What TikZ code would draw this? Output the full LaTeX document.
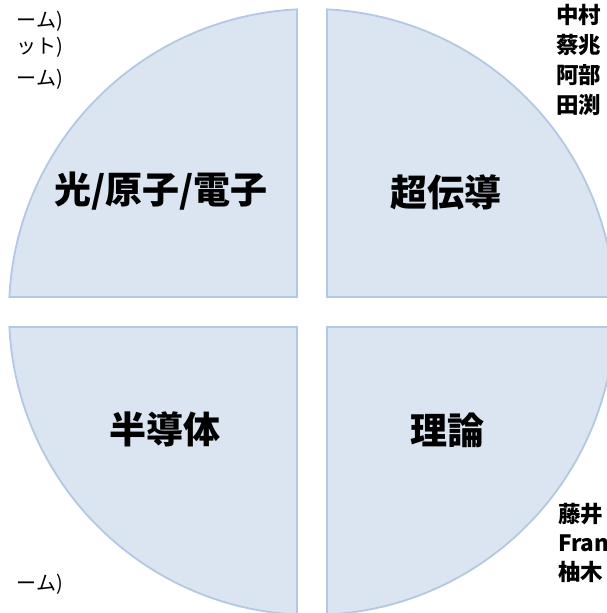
\documentclass[tikz,border=0pt]{standalone}
\usepackage{fontspec}
\newfontfamily\jp{Noto Sans CJK JP}
\definecolor{quadfill}{HTML}{DBE4F1}
\definecolor{quadline}{HTML}{B4C8E4}
\begin{document}
\begin{tikzpicture}[x=1pt,y=1pt,
  quad/.style={fill=quadfill,draw=quadline,line width=1.8pt,line join=miter},
  biglabel/.style={font=\jp\bfseries\fontsize{37}{42}\selectfont,text=black,inner sep=0pt},
  sidebold/.style={font=\jp\bfseries\fontsize{22.5}{26}\selectfont,text=black,inner sep=0pt,anchor=base west},
  sidereg/.style={font=\jp\fontsize{20}{24}\selectfont,text=black,inner sep=0pt,anchor=base east}]
\useasboundingbox (0,0) rectangle (606,613);
\fill[white] (0,0) rectangle (606,613);
\begin{scope}[shift={(312,301)}]
  \draw[quad] (-15,15) -- (92.838:303) arc[start angle=92.838,end angle=177.162,radius=303] -- cycle;
  \draw[quad] (15,15) -- (2.838:303) arc[start angle=2.838,end angle=87.162,radius=303] -- cycle;
  \draw[quad] (-15,-15) -- (182.838:303) arc[start angle=182.838,end angle=267.162,radius=303] -- cycle;
  \draw[quad] (15,-15) -- (272.838:303) arc[start angle=272.838,end angle=357.162,radius=303] -- cycle;
\end{scope}
\node[biglabel] (hikari) at (161,422) {光/原子/電子};
\node[biglabel] (chou) at (446,421) {超伝導};
\node[biglabel] (han) at (165,184) {半導体};
\node[biglabel] (riron) at (447,183) {理論};
% right top
\node[sidebold] (r1) at (556,589) {中村};
\node[sidebold] (r2) at (556,559) {蔡兆};
\node[sidebold] (r3) at (556,529) {阿部};
\node[sidebold] (r4) at (556,499) {田渕};
% right bottom
\node[sidebold] (b1) at (558,90) {藤井};
\node[sidebold] (b2) at (558,61) {Fran};
\node[sidebold] (b3) at (558,32) {柚木};
% left
\node[sidereg] (l1) at (63,585) {ーム)};
\node[sidereg] (l2) at (63,559) {ット)};
\node[sidereg] (l3) at (63,527) {ーム)};
\node[sidereg] (l4) at (63,23) {ーム)};
\end{tikzpicture}
\end{document}
